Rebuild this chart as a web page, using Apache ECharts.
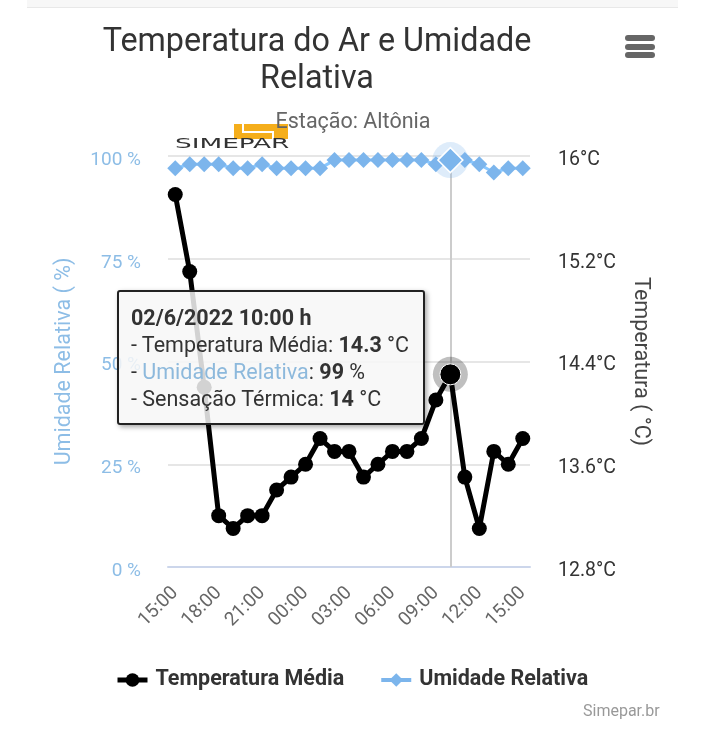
<!DOCTYPE html>
<html>
	<head>
		<meta charset="utf-8">
		<style>
			html,body{
				margin:0;
				height:100%;
				background:#fff;
			}
			#container{
				width:704px;
				height:750px;
			}
		</style>
	</head>
	<body>
	<div id="container"></div>
	<script src="https://cdn.jsdelivr.net/npm/echarts@6/dist/echarts.min.js"></script>
	<script>
		// 15:00 do dia anterior ate 15:00
		var horas = ['15:00','16:00','17:00','18:00','19:00','20:00','21:00','22:00','23:00','00:00','01:00','02:00','03:00',
			'04:00','05:00','06:00','07:00','08:00','09:00','10:00','11:00','12:00','13:00','14:00','15:00'];
		var temperatura = [15.7,15.1,14.2,13.2,13.1,13.2,13.2,13.4,13.5,13.6,13.8,13.7,13.7,
			13.5,13.6,13.7,13.7,13.8,14.1,14.3,13.5,13.1,13.7,13.6,13.8];
		var umidade = [97,98,98,98,97,97,98,97,97,97,97,99,99,
			99,99,99,99,99,98,99,99,98,96,97,97];
		var indiceAtual = 19;
		var nomeTemp = 'Temperatura Média';
		var nomeUmid = 'Umidade Relativa';
		var fonte = 'Roboto, sans-serif';

		var myChart = echarts.init(document.getElementById('container'));
		var option = {
			animation: false,
			backgroundColor: '#fff',
			title: [
				{
					text: 'Temperatura do Ar e Umidade\nRelativa',
					left: 312, top: 19, textAlign: 'center',
					textStyle: {fontFamily: fonte, fontSize: 32.3, fontWeight: 'normal', color: '#333', lineHeight: 37}
				},
				{
					text: 'Estação: Altônia',
					left: 348, top: 107, textAlign: 'center',
					textStyle: {fontFamily: fonte, fontSize: 21.5, fontWeight: 'normal', color: '#666'}
				},
				{
					text: 'Simepar.br',
					left: 578, top: 699,
					textStyle: {fontFamily: fonte, fontSize: 16, fontWeight: 'normal', color: '#999'}
				}
			],
			legend: {
				left: 110, top: 664,
				itemWidth: 30, itemHeight: 17, itemGap: 35,
				textStyle: {fontFamily: fonte, fontSize: 21.5, fontWeight: 'bold', color: '#333', padding: [0, 0, 0, 3]},
				data: [
					{name: nomeTemp, lineStyle: {width: 5}},
					{name: nomeUmid, lineStyle: {width: 4}}
				]
			},
			grid: {left: 168, right: 174, top: 156, bottom: 183},
			tooltip: {
				trigger: 'axis',
				alwaysShowContent: true,
				transitionDuration: 0,
				position: [117, 290],
				padding: 0,
				borderWidth: 0,
				backgroundColor: 'transparent',
				extraCssText: 'box-shadow:none;',
				axisPointer: {type: 'line', z: 1, triggerEmphasis: false, lineStyle: {color: '#ccc', width: 2, type: 'solid'}},
				formatter: function () {
					var i = indiceAtual;
					return '<div style="box-sizing:border-box;width:308px;height:135px;padding:12px 12px;border:2px solid #222;border-radius:3px;'
						+ 'background:rgba(247,247,247,0.85);box-shadow:2px 2px 5px rgba(0,0,0,0.35);font:21.5px/27px Roboto,sans-serif;color:#333;">'
						+ '<b>02/6/2022 ' + horas[i] + ' h</b><br>'
						+ '- ' + nomeTemp + ': <b>' + temperatura[i] + '</b> °C<br>'
						+ '- <span style="color:#8db9dc">' + nomeUmid + '</span>: <b>' + umidade[i] + '</b> %<br>'
						+ '- Sensação Térmica: <b>14</b> °C</div>';
				}
			},
			xAxis: {
				type: 'category',
				data: horas,
				axisTick: {show: false},
				axisLine: {lineStyle: {color: '#ccd6eb', width: 2}},
				axisLabel: {interval: 2, rotate: 45, margin: 23, fontFamily: fonte, fontSize: 19, color: '#666'}
			},
			yAxis: [
				{
					type: 'value',
					min: 0, max: 100, interval: 25,
					name: 'Umidade Relativa ( %)',
					nameLocation: 'middle', nameGap: 92, nameRotate: 90,
					nameTextStyle: {fontFamily: fonte, fontSize: 21.5, color: '#8dbde6'},
					axisLine: {show: false},
					axisTick: {show: false},
					splitLine: {lineStyle: {color: '#e6e6e6', width: 2}},
					axisLabel: {
						margin: 27, fontFamily: fonte, fontSize: 19, color: '#8dbde6',
						verticalAlign: 'top', lineHeight: 8,
						formatter: '{value} %'
					}
				},
				{
					type: 'value',
					min: 12.8, max: 16, interval: 0.8,
					name: 'Temperatura ( °C)',
					nameLocation: 'middle', nameGap: 99, nameRotate: -90,
					nameTextStyle: {fontFamily: fonte, fontSize: 21.5, color: '#444'},
					axisLine: {show: false},
					axisTick: {show: false},
					splitLine: {show: false},
					axisLabel: {
						margin: 28, fontFamily: fonte, fontSize: 19.5, color: '#333',
						verticalAlign: 'top', lineHeight: 8,
						formatter: function (v) { return (Math.round(v * 10) / 10) + '°C'; }
					}
				}
			],
			series: [
				{
					name: nomeUmid,
					type: 'line',
					yAxisIndex: 0,
					data: umidade,
					showAllSymbol: true,
					symbol: 'diamond',
					symbolSize: 16,
					color: '#7cb5ec',
					lineStyle: {width: 3},
					markPoint: {
						silent: true,
						label: {show: false},
						data: [
							{coord: [indiceAtual, umidade[indiceAtual]], symbol: 'circle', symbolSize: 36, itemStyle: {color: 'rgba(124,181,236,0.25)'}},
							{coord: [indiceAtual, umidade[indiceAtual]], symbol: 'diamond', symbolSize: 25, itemStyle: {color: '#7cb5ec', borderColor: '#fff', borderWidth: 1.5}}
						]
					}
				},
				{
					name: nomeTemp,
					type: 'line',
					yAxisIndex: 1,
					data: temperatura,
					showAllSymbol: true,
					symbol: 'circle',
					symbolSize: 15,
					color: '#000',
					lineStyle: {width: 5},
					markPoint: {
						silent: true,
						label: {show: false},
						data: [
							{coord: [indiceAtual, temperatura[indiceAtual]], symbol: 'circle', symbolSize: 35, itemStyle: {color: 'rgba(0,0,0,0.25)'}},
							{coord: [indiceAtual, temperatura[indiceAtual]], symbol: 'circle', symbolSize: 21, itemStyle: {color: '#000', borderColor: '#fff', borderWidth: 1}}
						]
					}
				}
			],
			graphic: [
				// faixa do topo da pagina
				{type: 'rect', silent: true, shape: {x: 27, y: 0, width: 651, height: 7}, style: {fill: '#f7f7f7'}},
				{type: 'rect', silent: true, shape: {x: 27, y: 7, width: 651, height: 1}, style: {fill: '#e8e8e8'}},
				// menu
				{type: 'rect', silent: true, shape: {x: 625, y: 35, width: 30, height: 6, r: 3}, style: {fill: '#666'}},
				{type: 'rect', silent: true, shape: {x: 625, y: 44, width: 30, height: 6, r: 3}, style: {fill: '#666'}},
				{type: 'rect', silent: true, shape: {x: 625, y: 52, width: 30, height: 6, r: 3}, style: {fill: '#666'}},
				// logo
				{type: 'rect', silent: true, shape: {x: 234, y: 124, width: 54, height: 15}, style: {fill: '#f5ae1b'}},
				{type: 'polyline', silent: true, shape: {points: [[243, 124], [243, 132], [273, 132], [273, 139]]}, style: {stroke: '#fff', lineWidth: 2, fill: 'none'}},
				{type: 'text', silent: true, x: 175, y: 137, style: {text: 'SIMEPAR', font: '14px "DejaVu Sans"', fill: '#333'}, scaleX: 1.88, scaleY: 1}
			]
		};
		myChart.setOption(option);
		myChart.dispatchAction({type: 'showTip', seriesIndex: 1, dataIndex: indiceAtual});
	</script>
	</body>
</html>
